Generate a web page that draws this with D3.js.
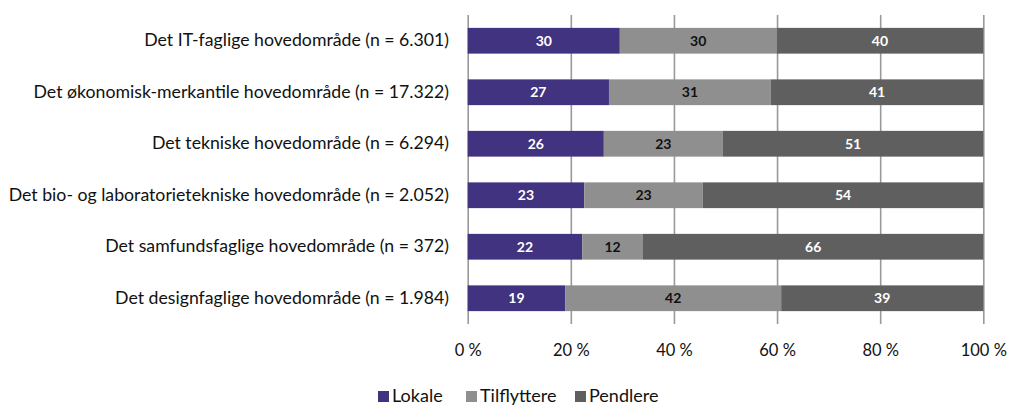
<!DOCTYPE html>
<html>
<head>
<meta charset="utf-8">
<script src="https://cdn.jsdelivr.net/npm/d3@7"></script>
<style>
  body { margin: 0; background: #fff; }
  svg { display: block; font-family: Lato, "Noto Sans", sans-serif; }
</style>
</head>
<body>
<svg id="canvas"></svg>
<script>
let categories = [
    "Det IT-faglige hovedområde (n = 6.301)",
    "Det økonomisk-merkantile hovedområde (n = 17.322)",
    "Det tekniske hovedområde (n = 6.294)",
    "Det bio- og laboratorietekniske hovedområde (n = 2.052)",
    "Det samfundsfaglige hovedområde (n = 372)",
    "Det designfaglige hovedområde (n = 1.984)"
]
let lokale = [29.5, 27.4, 26.4, 22.6, 22.2, 18.9]
let tilflyttere = [30.4, 31.4, 23.1, 23.0, 11.8, 41.9]
let pendlere = [40.1, 41.2, 50.5, 54.4, 66.0, 39.2]
let seriesNames = ["Lokale", "Tilflyttere", "Pendlere"]
let xTicks = [0, 20, 40, 60, 80, 100]

let colors = ["#41337f", "#8f8f8f", "#5f5f5f"]
let labelColors = ["#fff", "#111", "#fff"]

let width = 1009
let height = 405

let svg = d3.select("#canvas")
svg.attr("width", width)
svg.attr("height", height)

let xScale = d3.scaleLinear().domain([0, 100]).range([467.7, 983.3])
let yScale = d3.scaleBand().domain(categories).range([15, 324])
    .paddingInner(0.5).paddingOuter(0.25)

let rows = categories.map((c, i) => ({cat: c, Lokale: lokale[i], Tilflyttere: tilflyttere[i], Pendlere: pendlere[i]}))
let stacked = d3.stack().keys(seriesNames)(rows)

// gridlines + tick labels
let xAxis = d3.axisBottom(xScale)
    .tickValues(xTicks)
    .tickSize(-(324 - 15))
    .tickFormat(d => d + " %")

let gx = svg.append("g")
    .attr("transform", "translate(0," + 324 + ")")
    .call(xAxis)
gx.select(".domain").remove()
gx.selectAll(".tick line").attr("stroke", "#999").attr("stroke-width", 1.6)
gx.selectAll(".tick text")
    .attr("y", 20)
    .attr("font-size", 16.5)
    .attr("font-family", "Lato, 'Noto Sans', sans-serif")
    .attr("fill", "#111")

// bars
let groups = svg.selectAll("g.series")
    .data(stacked)
    .enter()
    .append("g")
    .attr("class", "series")
    .attr("fill", (d, i) => colors[i])

groups.selectAll("rect")
    .data(d => d)
    .enter()
    .append("rect")
    .attr("x", d => xScale(d[0]))
    .attr("y", d => yScale(d.data.cat))
    .attr("width", d => xScale(d[1]) - xScale(d[0]))
    .attr("height", yScale.bandwidth())

groups.each(function (s, si) {
    d3.select(this).selectAll("text")
        .data(s)
        .enter()
        .append("text")
        .attr("x", d => (xScale(d[0]) + xScale(d[1])) / 2)
        .attr("y", d => yScale(d.data.cat) + yScale.bandwidth() / 2)
        .attr("dy", "0.36em")
        .attr("text-anchor", "middle")
        .attr("font-size", 14)
        .attr("font-weight", "bold")
        .attr("fill", labelColors[si])
        .text(d => Math.round(d[1] - d[0]))
})

// category labels
let yAxis = d3.axisLeft(yScale).tickSize(0).tickPadding(0)
let gy = svg.append("g")
    .attr("transform", "translate(449,0)")
    .call(yAxis)
gy.select(".domain").remove()
gy.selectAll(".tick text")
    .attr("font-size", 17.7)
    .attr("font-family", "Lato, 'Noto Sans', sans-serif")
    .attr("fill", "#111")

// legend
let legendX = [378, 466, 575]
let legend = svg.append("g")
legend.selectAll("rect")
    .data(seriesNames)
    .enter()
    .append("rect")
    .attr("x", (d, i) => legendX[i])
    .attr("y", 391)
    .attr("width", 11)
    .attr("height", 11)
    .attr("fill", (d, i) => colors[i])
legend.selectAll("text")
    .data(seriesNames)
    .enter()
    .append("text")
    .attr("x", (d, i) => legendX[i] + 14)
    .attr("y", 402)
    .attr("font-size", 18)
    .attr("fill", "#111")
    .text(d => d)
</script>
</body>
</html>
